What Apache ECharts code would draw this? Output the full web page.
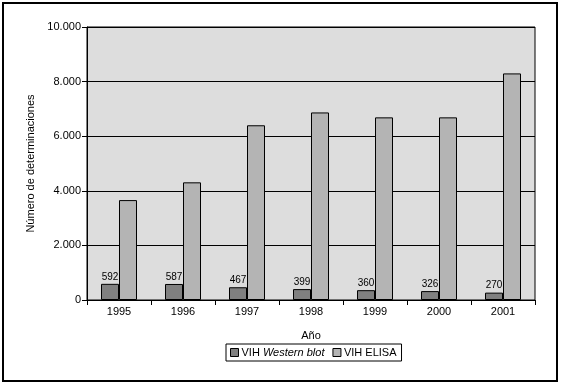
<!DOCTYPE html>
<html>
<head>
<meta charset="utf-8">
<script src="https://cdn.jsdelivr.net/npm/echarts@6/dist/echarts.min.js"></script>
<style>
    html, body { margin: 0; padding: 0; background: #fff; }
    #chart { width: 561px; height: 386px; }
</style>
</head>
<body>
<div id="chart"></div>
<script>
var years = ['1995', '1996', '1997', '1998', '1999', '2000', '2001'];
var westernBlot = [592, 587, 467, 399, 360, 326, 270];
var elisa = [3660, 4310, 6400, 6870, 6690, 6690, 8300];

var chartDom = document.getElementById('chart');
var myChart = echarts.init(chartDom);
var option;

var font = 'Liberation Sans';

option = {
    animation: false,
    textStyle: { fontFamily: font },
    graphic: [
        {
            type: 'rect',
            shape: { x: 3, y: 3, width: 554, height: 378 },
            style: { fill: 'none', stroke: '#000', lineWidth: 2 },
            silent: true
        }
    ],
    grid: {
        left: 87,
        right: 26,
        top: 27,
        bottom: 86,
        show: true,
        backgroundColor: '#dddddd',
        borderColor: '#000',
        borderWidth: 1
    },
    legend: {
        left: 226,
        top: 344,
        icon: 'rect',
        itemWidth: 8,
        itemHeight: 8,
        itemGap: 8,
        padding: [3, 5, 3, 4],
        borderColor: '#000',
        borderWidth: 1,
        borderRadius: 0,
        textStyle: {
            fontFamily: font,
            fontSize: 11,
            color: '#000',
            padding: [0, 0, 0, -2],
            rich: {
                it: { fontStyle: 'italic', fontFamily: font, fontSize: 11, color: '#000' }
            }
        },
        formatter: function (name) {
            if (name === 'VIH Western blot') return 'VIH {it|Western blot}';
            return name;
        },
        data: [
            { name: 'VIH Western blot', itemStyle: { borderColor: '#000', borderWidth: 1 } },
            { name: 'VIH ELISA', itemStyle: { borderColor: '#000', borderWidth: 1 } }
        ]
    },
    xAxis: {
        type: 'category',
        data: years,
        name: 'Año',
        nameLocation: 'middle',
        nameGap: 30,
        nameTextStyle: { fontSize: 11, color: '#000' },
        axisLine: { lineStyle: { color: '#000', width: 1 } },
        axisTick: { show: true, length: 5, lineStyle: { color: '#000' } },
        axisLabel: { fontSize: 11, color: '#000', margin: 6 },
        splitLine: { show: false }
    },
    yAxis: {
        type: 'value',
        min: 0,
        max: 10000,
        interval: 2000,
        name: 'Número de determinaciones',
        nameLocation: 'middle',
        nameGap: 49,
        nameTextStyle: { fontSize: 11, color: '#000' },
        axisLine: { show: true, lineStyle: { color: '#000', width: 1 } },
        axisTick: { show: true, length: 5, lineStyle: { color: '#000' } },
        axisLabel: {
            fontSize: 11,
            color: '#000',
            margin: 6,
            formatter: function (v) {
                return v.toString().replace(/\B(?=(\d{3})+(?!\d))/g, '.');
            }
        },
        splitLine: { show: true, lineStyle: { color: '#000', width: 1 } }
    },
    series: [
        {
            name: 'VIH Western blot',
            type: 'bar',
            data: westernBlot,
            barWidth: 18,
            barGap: '0%',
            itemStyle: { color: '#808080', borderColor: '#000', borderWidth: 1 },
            label: {
                show: true,
                position: 'top',
                distance: 2,
                fontSize: 10,
                color: '#000'
            }
        },
        {
            name: 'VIH ELISA',
            type: 'bar',
            data: elisa,
            barWidth: 18,
            itemStyle: { color: '#b4b4b4', borderColor: '#000', borderWidth: 1 }
        }
    ]
};

option && myChart.setOption(option);
</script>
</body>
</html>
